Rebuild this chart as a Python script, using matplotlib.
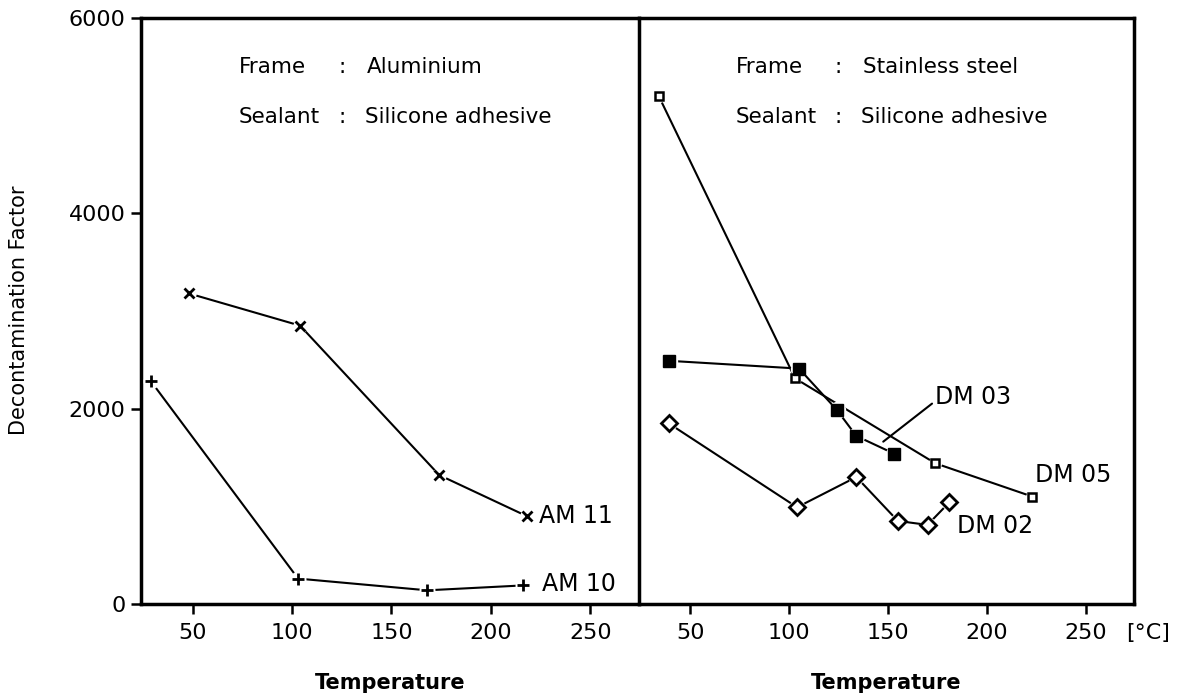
import matplotlib
matplotlib.use("Agg")
import matplotlib.pyplot as plt
import matplotlib.transforms as mtransforms

plt.rcParams['font.family'] = ['DejaVu Sans']

# temperature [degC] / decontamination factor, aluminium frame
am11_t = [48, 104, 174, 218]
am11_df = [3180, 2850, 1320, 900]
am10_t = [29, 103, 168, 216]
am10_df = [2280, 260, 140, 190]

# stainless steel frame
dm05_t = [34, 103, 174, 223]
dm05_df = [5200, 2310, 1440, 1100]
dm03_t = [39, 105, 124, 134, 153]
dm03_df = [2490, 2410, 1990, 1720, 1540]
dm02_t = [39, 104, 134, 155, 170, 181]
dm02_df = [1850, 990, 1300, 850, 810, 1040]

xticks = [50, 100, 150, 200, 250]
yticks = [0, 2000, 4000, 6000]

fig = plt.figure(figsize=(11.82, 6.96), dpi=100)
ax1 = fig.add_axes([0.1193, 0.1322, 0.4213, 0.8420])
ax2 = fig.add_axes([0.5406, 0.1322, 0.4188, 0.8420], sharey=ax1)


def series(ax, t, df, marker, ms, filled, mew):
    ax.plot(t, df, color='black', lw=1.5, zorder=2)
    # white disc behind each marker leaves a small gap in the line
    ax.plot(t, df, ls='none', marker='o', ms=ms + 3.5, mfc='white', mec='none', zorder=3)
    ax.plot(t, df, ls='none', marker=marker, ms=ms, mew=mew, mec='black',
            mfc='black' if filled else 'white', zorder=4)


for ax in (ax1, ax2):
    ax.set_xlim(24, 274.5)
    ax.set_ylim(0, 6000)
    ax.set_xticks(xticks)
    ax.tick_params(axis='both', direction='out', length=7, width=1.8, labelsize=16, pad=7)
    for s in ax.spines.values():
        s.set_linewidth(2.5)
    ax.set_xlabel('Temperature', fontsize=15, fontweight='bold', labelpad=21)

ax1.set_yticks(yticks)
ax1.tick_params(axis='y', pad=4)
ax1.spines['right'].set_visible(False)
ax2.tick_params(axis='y', left=False, labelleft=False)

series(ax1, am11_t, am11_df, 'x', 7, False, 2.0)
series(ax1, am10_t, am10_df, '+', 8, False, 2.0)
ax1.text(224.4, 900, 'AM 11', fontsize=17, ha='left', va='center')
ax1.text(225.9, 205, 'AM 10', fontsize=17, ha='left', va='center')

series(ax2, dm05_t, dm05_df, 's', 6, False, 1.8)
series(ax2, dm03_t, dm03_df, 's', 9, True, 1.0)
series(ax2, dm02_t, dm02_df, 'D', 8, False, 2.0)
ax2.text(224.4, 1321, 'DM 05', fontsize=17, ha='left', va='center')
ax2.text(184.7, 800, 'DM 02', fontsize=17, ha='left', va='center')
ax2.annotate('DM 03', xy=(147.6, 1662), xytext=(173.7, 2123), fontsize=17,
             ha='left', va='center',
             arrowprops=dict(arrowstyle='-', color='black', lw=1.5,
                             shrinkA=0, shrinkB=0, relpos=(-0.02, 0.25)))

# frame / sealant notes
for ax, frame in ((ax1, 'Aluminium'), (ax2, 'Stainless steel')):
    ax.text(73, 5500, 'Frame', fontsize=15.5, ha='left', va='center')
    ax.text(125, 5500, ':', fontsize=15.5, ha='center', va='center')
    ax.text(137.5, 5500, frame, fontsize=15.5, ha='left', va='center')
    ax.text(73, 4990, 'Sealant', fontsize=15.5, ha='left', va='center')
    ax.text(125, 4990, ':', fontsize=15.5, ha='center', va='center')
    ax.text(136.5, 4990, 'Silicone adhesive', fontsize=15.5, ha='left', va='center')

trans = mtransforms.blended_transform_factory(ax2.transData, ax2.transAxes)
ax2.text(270.5, -0.049, '[°C]', transform=trans, fontsize=16, ha='left', va='center',
         clip_on=False)

fig.text(19 / 1182, 1 - 310 / 696, 'Decontamination Factor', rotation=90,
         fontsize=15, ha='center', va='center')

fig.savefig('out.png', dpi=100)
